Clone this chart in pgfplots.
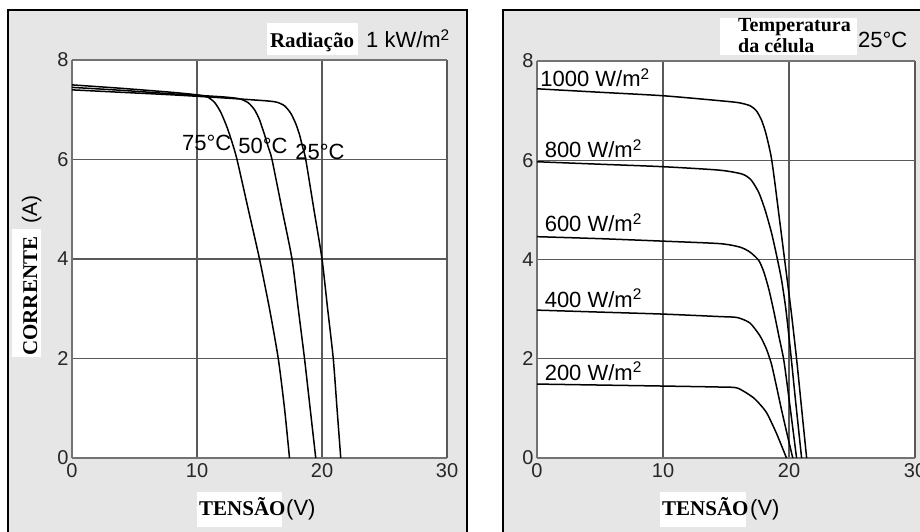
\documentclass[border=0pt]{standalone}
\usepackage{fontspec}
\setmainfont{Liberation Sans}
\newfontfamily\tnr{Liberation Serif}
\usepackage{pgfplots}
\pgfplotsset{compat=1.18}
\definecolor{panelgray}{RGB}{230,230,230}
\pgfplotsset{myax/.style={
  scale only axis, width=375pt, height=398pt, anchor=origin,
  xmin=0, xmax=30, ymin=0, ymax=8,
  xtick={0,10,20,30}, ytick={0,2,4,6,8},
  grid=major, major grid style={draw=black!65, line width=1.1pt},
  axis background/.style={fill=white},
  axis x line*=box, axis y line*=left,
  axis line style={-, draw=black!55, line width=2pt},
  major tick length=0pt,
  ticklabel style={font=\fontsize{20}{24}\selectfont, text=black!85},
  xticklabel style={yshift=-2pt},
  /pgf/number format/assume math mode=true,
  clip=false,
  every axis plot post/.append style={black, line width=1.5pt, smooth, tension=0.4, mark=none},
}}
\begin{document}
\begin{tikzpicture}[x=1pt,y=1pt]
\useasboundingbox (0,0) rectangle (920,531);
\begin{scope}
\clip (0,0) rectangle (920,531);
\draw[line width=1.2pt, fill=panelgray] (8,521) rectangle (467,-10);
\draw[line width=1.2pt, fill=panelgray] (503,521) rectangle (940,-10);
\end{scope}

% ---------------- Left panel ----------------
\begin{axis}[myax, at={(72pt,73pt)}]
% 75 C
\addplot coordinates {(0,7.5)(4,7.43)(8,7.35)(10,7.3)(10.8,7.26)(11.4,7.15)(11.9,6.95)(12.4,6.65)(12.8,6.35)(13.2,6.0)(14.1,5.0)(15.0,4.0)(15.8,3.0)(16.5,2.0)(17.0,1.0)(17.4,0)};
% 50 C
\addplot coordinates {(0,7.45)(4,7.39)(8,7.32)(12,7.26)(13.4,7.22)(14.1,7.14)(14.6,7.0)(15.0,6.8)(15.4,6.5)(15.7,6.25)(16.0,6.0)(16.8,5.0)(17.6,4.0)(18.1,3.0)(18.6,2.0)(19.05,1.0)(19.5,0)};
% 25 C
\addplot coordinates {(0,7.4)(4,7.35)(8,7.3)(12,7.24)(15.5,7.18)(16.4,7.15)(17.0,7.08)(17.5,6.93)(17.9,6.72)(18.2,6.5)(18.45,6.25)(18.7,6.0)(19.35,5.0)(20.0,4.0)(20.45,3.0)(20.9,2.0)(21.2,1.0)(21.5,0)};
\node[anchor=base west, inner sep=0pt, font=\fontsize{22}{24}\selectfont] at (axis cs:8.8,6.19) {75°C};
\node[anchor=base west, inner sep=0pt, font=\fontsize{22}{24}\selectfont] at (axis cs:13.3,6.13) {50°C};
\node[anchor=base west, inner sep=0pt, font=\fontsize{22}{24}\selectfont] at (axis cs:17.85,5.99) {25°C};
\end{axis}

% ---------------- Right panel ----------------
\begin{axis}[myax, at={(537pt,73pt)}, width=378pt, height=397pt]
% 1000
\addplot coordinates {(0,7.44)(5,7.37)(10,7.3)(14.5,7.2)(16.0,7.16)(16.9,7.1)(17.4,7.0)(17.8,6.82)(18.1,6.6)(18.35,6.35)(18.6,6.05)(18.85,5.6)(19.2,4.9)(19.65,4.0)(20.15,3.0)(20.6,2.0)(21.0,1.0)(21.4,0)};
% 800
\addplot coordinates {(0,5.97)(5,5.92)(10,5.87)(14.5,5.8)(16.3,5.72)(17.0,5.6)(17.6,5.35)(18.1,5.0)(18.6,4.55)(19.0,4.1)(19.4,3.6)(19.75,3.0)(20.1,2.2)(20.5,1.2)(21.0,0)};
% 600
\addplot coordinates {(0,4.46)(5,4.42)(10,4.37)(14.5,4.32)(16.1,4.25)(16.9,4.15)(17.6,3.98)(18.0,3.75)(18.4,3.4)(18.8,2.95)(19.2,2.45)(19.6,1.95)(20.1,1.0)(20.6,0)};
% 400
\addplot coordinates {(0,2.98)(5,2.94)(10,2.9)(14.5,2.85)(15.9,2.83)(16.9,2.72)(17.7,2.46)(18.2,2.2)(18.6,1.9)(19.0,1.45)(19.4,0.98)(19.85,0.48)(20.3,0)};
% 200
\addplot coordinates {(0,1.49)(5,1.47)(10,1.45)(14.5,1.43)(15.9,1.41)(17.1,1.23)(17.7,1.08)(18.25,0.9)(19.0,0.5)(19.8,0)};
\node[anchor=base west, inner sep=0pt, font=\fontsize{22}{24}\selectfont] at (axis cs:0.25,7.48) {1000 W/m\textsuperscript{2}};
\node[anchor=base west, inner sep=0pt, font=\fontsize{22}{24}\selectfont] at (axis cs:0.6,6.05) {800 W/m\textsuperscript{2}};
\node[anchor=base west, inner sep=0pt, font=\fontsize{22}{24}\selectfont] at (axis cs:0.6,4.56) {600 W/m\textsuperscript{2}};
\node[anchor=base west, inner sep=0pt, font=\fontsize{22}{24}\selectfont] at (axis cs:0.6,3.04) {400 W/m\textsuperscript{2}};
\node[anchor=base west, inner sep=0pt, font=\fontsize{22}{24}\selectfont] at (axis cs:0.6,1.57) {200 W/m\textsuperscript{2}};
\end{axis}

% ---------------- Titles and labels ----------------
% left top
\fill[white] (267,476) rectangle (358,508);
\node[anchor=base, inner sep=0pt, font=\tnr\bfseries\fontsize{21}{24}\selectfont] at (312,483) {Radiação};
\node[anchor=base, inner sep=0pt, font=\fontsize{22}{24}\selectfont] at (408,483) {1 kW/m\textsuperscript{2}};
% right top
\fill[white] (720,476) rectangle (857,513);
\node[anchor=base west, inner sep=0pt, font=\tnr\bfseries\fontsize{20}{22}\selectfont] at (738,499) {Temperatura};
\node[anchor=base west, inner sep=0pt, font=\tnr\bfseries\fontsize{20}{22}\selectfont] at (738,478) {da célula};
\node[anchor=base west, inner sep=0pt, font=\fontsize{22}{24}\selectfont] at (858,483) {25°C};
% x labels
\fill[white] (197,4) rectangle (282,39);
\node[anchor=base west, inner sep=0pt, font=\tnr\bfseries\fontsize{21}{24}\selectfont] at (199,16) {TENSÃO};
\node[anchor=base west, inner sep=0pt, font=\fontsize{22}{24}\selectfont] at (286,16) {(V)};
\fill[white] (660,4) rectangle (746,39);
\node[anchor=base west, inner sep=0pt, font=\tnr\bfseries\fontsize{21}{24}\selectfont] at (662,16) {TENSÃO};
\node[anchor=base west, inner sep=0pt, font=\fontsize{22}{24}\selectfont] at (750,16) {(V)};
% y label
\fill[white] (12,174) rectangle (41,302);
\node[rotate=90, anchor=base west, inner sep=0pt, font=\tnr\bfseries\fontsize{21}{24}\selectfont] at (37,175) {CORRENTE};
\node[rotate=90, anchor=base west, inner sep=0pt, font=\fontsize{21}{24}\selectfont] at (37,307) {(A)};
\end{tikzpicture}
\end{document}
